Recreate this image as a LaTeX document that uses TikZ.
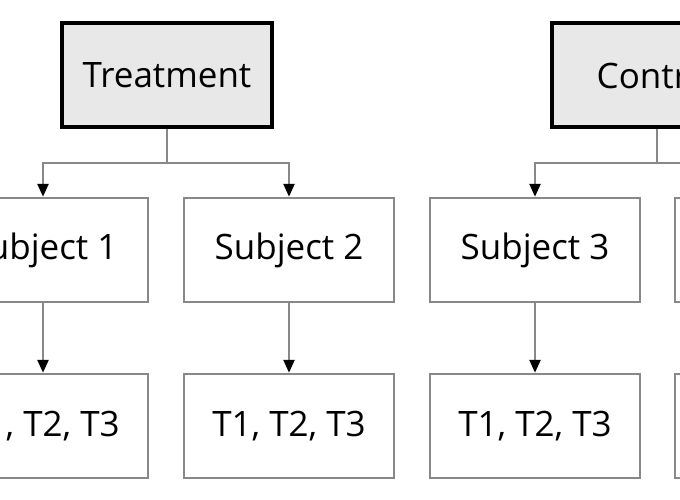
\documentclass[tikz,border=0pt]{standalone}
\usepackage{fontspec}
\setmainfont{Open Sans}
\usetikzlibrary{arrows.meta}
\definecolor{boxgray}{HTML}{888888}
\definecolor{fillgray}{HTML}{E8E8E8}
\tikzset{
  groupbox/.style={draw=black, line width=3.5pt, fill=fillgray, minimum width=210pt, minimum height=104pt, inner sep=0pt, font=\fontsize{35}{40}\selectfont},
  itembox/.style={draw=boxgray, line width=2.5pt, fill=white, minimum width=210pt, minimum height=104pt, inner sep=0pt, font=\fontsize{35}{40}\selectfont},
  arr/.style={draw=boxgray, line width=2.5pt, -{Triangle[fill=black,color=black,length=13pt,width=11pt]}},
  stem/.style={draw=boxgray, line width=2.5pt}
}
\begin{document}
\begin{tikzpicture}[x=1pt,y=-1pt]
\useasboundingbox (0,0) rectangle (680,500);
\clip (0,0) rectangle (680,500);
\fill[white] (0,0) rectangle (680,500);
\node[groupbox] (treat) at (167,75) {Treatment};
\node[groupbox] (ctrl) at (657,75) {Control};
\node[itembox] (s1) at (43,250) {Subject 1};
\node[itembox] (s2) at (289,250) {Subject 2};
\node[itembox] (s3) at (535,250) {Subject 3};
\node[itembox] (s4) at (780,250) {Subject 4};
\node[itembox] (t1) at (43,426) {T1, T2, T3};
\node[itembox] (t2) at (289,426) {T1, T2, T3};
\node[itembox] (t3) at (535,426) {T1, T2, T3};
\node[itembox] (t4) at (780,426) {T1, T2, T3};
\coordinate (j1) at (167,163);
\coordinate (j2) at (657,163);
\draw[stem] (treat.south) -- (j1);
\draw[stem] (ctrl.south) -- (j2);
\draw[arr] (j1) -| (s1.north);
\draw[arr] (j1) -| (s2.north);
\draw[arr] (j2) -| (s3.north);
\draw[arr] (j2) -| (s4.north);
\draw[arr] (s1) -- (t1);
\draw[arr] (s2) -- (t2);
\draw[arr] (s3) -- (t3);
\draw[arr] (s4) -- (t4);
\end{tikzpicture}
\end{document}
